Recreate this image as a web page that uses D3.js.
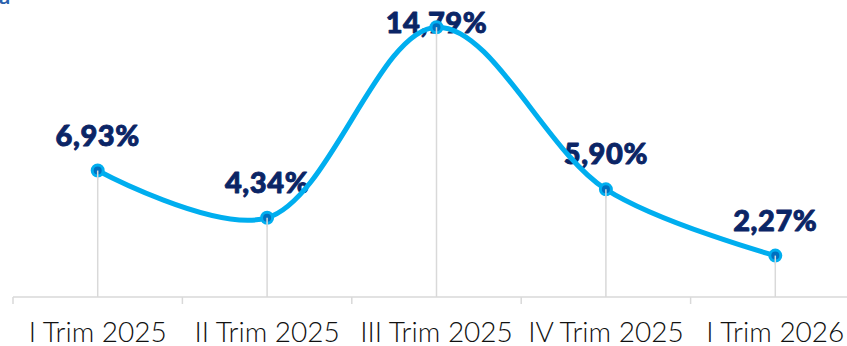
<!DOCTYPE html>
<html><head><meta charset="utf-8">
<script src="https://cdn.jsdelivr.net/npm/d3@7"></script>
<style>html,body{margin:0;padding:0;background:#fff;overflow:hidden}</style>
</head><body>
<svg id="c" width="847" height="346"></svg>
<script>
const categories = ["I Trim 2025", "II Trim 2025", "III Trim 2025", "IV Trim 2025", "I Trim 2026"];
const values = [6.93, 4.34, 14.79, 5.90, 2.27];
const valueLabels = ["6,93%", "4,34%", "14,79%", "5,90%", "2,27%"];

const svg = d3.select("#c");
const x = d3.scaleBand().domain(categories).range([13, 860]);
const y = d3.scaleLinear().domain([0, 16.28]).range([297, 0]);
const cx = d => x(d) + x.bandwidth() / 2;

// title fragment
svg.append("text").attr("x", -1).attr("y", 4).attr("font-family", "Lato").attr("font-weight", "bold")
  .attr("font-size", 22).attr("fill", "#2b62ad").text("a");

// axis
const ax = svg.append("g").attr("transform", "translate(0,297)");
ax.append("line").attr("x1", 13).attr("x2", 847).attr("stroke", "#d9d9d9").attr("stroke-width", 1.5);
const bounds = categories.map(c => x(c)).concat([x.range()[1]]);
ax.selectAll("line.t").data(bounds).join("line").attr("class", "t")
  .attr("x1", d => d).attr("x2", d => d).attr("y1", 0).attr("y2", 7)
  .attr("stroke", "#d9d9d9").attr("stroke-width", 1.5);
ax.selectAll("text").data(categories).join("text")
  .attr("x", d => cx(d)).attr("y", 45).attr("text-anchor", "middle")
  .attr("font-family", "Lato").attr("font-weight", 300).attr("font-size", 28).attr("fill", "#111").text(d => d);

const pts = categories.map((c, i) => ({c, v: values[i], l: valueLabels[i]}));

// value labels
svg.selectAll("text.v").data(pts).join("text").attr("class", "v")
  .attr("x", d => cx(d.c)).attr("y", d => Math.max(y(d.v) - 25, 33)).attr("text-anchor", "middle")
  .attr("font-family", "Lato").attr("font-weight", 900).attr("font-size", 29)
  .attr("letter-spacing", 0.6).attr("fill", "#0b2566")
  .attr("stroke", "#0b2566").attr("stroke-width", 0.9).attr("stroke-linejoin", "round").text(d => d.l);

// drop lines
svg.selectAll("line.d").data(pts).join("line").attr("class", "d")
  .attr("x1", d => cx(d.c)).attr("x2", d => cx(d.c)).attr("y1", d => y(d.v)).attr("y2", 297)
  .attr("stroke", "#d9d9d9").attr("stroke-width", 1.5);

// line
const line = d3.line().x(d => cx(d.c)).y(d => y(d.v)).curve(d3.curveCatmullRom.alpha(0.5));
svg.append("path").datum(pts).attr("d", line).attr("fill", "none")
  .attr("stroke", "#00aeef").attr("stroke-width", 5).attr("stroke-linecap", "round");

// markers
svg.selectAll("circle.m").data(pts).join("circle").attr("class", "m")
  .attr("cx", d => cx(d.c)).attr("cy", d => y(d.v)).attr("r", 5.5)
  .attr("fill", "#0070c0").attr("stroke", "#00aeef").attr("stroke-width", 3);
svg.selectAll("line.d2").data(pts).join("line").attr("class", "d2")
  .attr("x1", d => cx(d.c)).attr("x2", d => cx(d.c)).attr("y1", d => y(d.v)).attr("y2", d => y(d.v) + 9)
  .attr("stroke", "#d9d9d9").attr("stroke-width", 1.5);
</script>
</body></html>
